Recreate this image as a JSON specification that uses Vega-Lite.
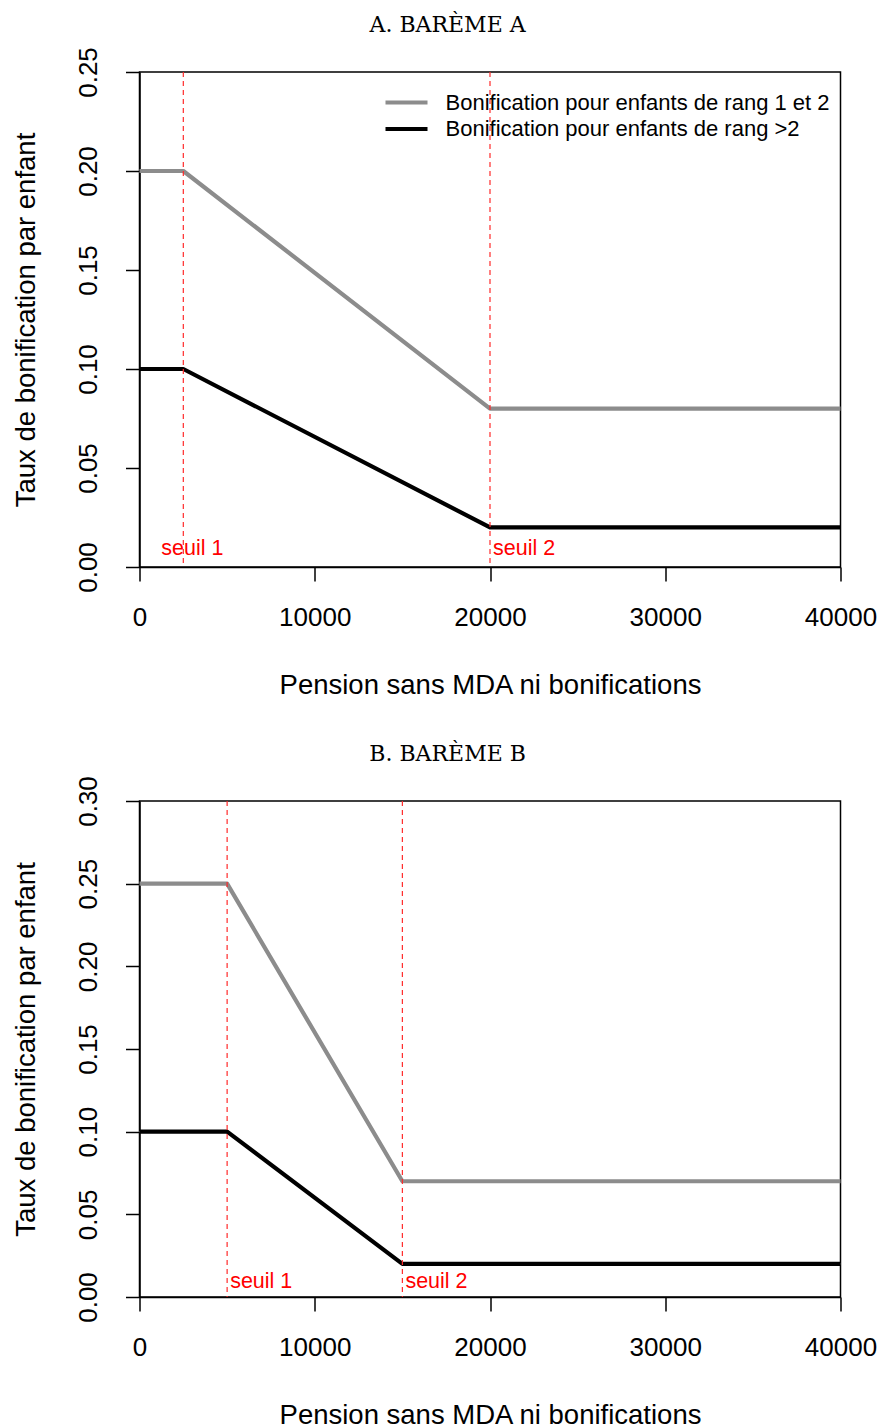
{
  "$schema": "https://vega.github.io/schema/vega-lite/v6.json",
  "background": "white",
  "padding": {"left": 11.5, "top": 12, "right": 0, "bottom": 0},
  "spacing": 41,
  "config": {
    "view": {"stroke": "#000000", "strokeWidth": 1.5},
    "axis": {
      "labelFont": "Liberation Sans", "titleFont": "Liberation Sans",
      "labelFontSize": 26, "titleFontSize": 27.5,
      "labelFontWeight": "normal", "titleFontWeight": "normal",
      "labelColor": "#000000", "titleColor": "#000000",
      "tickColor": "#000000", "domainColor": "#000000",
      "tickSize": 14, "tickWidth": 1.5, "domainWidth": 1.5,
      "grid": false, "labelOverlap": false, "labelBound": false
    },
    "axisX": {"labelFlush": false, "labelPadding": 23, "titlePadding": 41},
    "axisY": {"labelAngle": -90, "labelAlign": "center", "labelBaseline": "bottom", "labelPadding": 24, "titlePadding": 35},
    "title": {"font": "DejaVu Serif", "fontSize": 22, "fontWeight": "normal", "color": "#000000", "anchor": "middle", "frame": "bounds", "baseline": "alphabetic", "offset": 10, "dx": 3},
    "legend": {"labelFont": "Liberation Sans", "labelFontSize": 22, "labelColor": "#000000", "labelLimit": 600}
  },
  "datasets": {
    "a_lines": [
      {"serie": "Bonification pour enfants de rang 1 et 2", "pension": 0, "taux": 0.2},
      {"serie": "Bonification pour enfants de rang 1 et 2", "pension": 2500, "taux": 0.2},
      {"serie": "Bonification pour enfants de rang 1 et 2", "pension": 20000, "taux": 0.08},
      {"serie": "Bonification pour enfants de rang 1 et 2", "pension": 40000, "taux": 0.08},
      {"serie": "Bonification pour enfants de rang >2", "pension": 0, "taux": 0.1},
      {"serie": "Bonification pour enfants de rang >2", "pension": 2500, "taux": 0.1},
      {"serie": "Bonification pour enfants de rang >2", "pension": 20000, "taux": 0.02},
      {"serie": "Bonification pour enfants de rang >2", "pension": 40000, "taux": 0.02}
    ],
    "a_seuils": [
      {"label": "seuil 1", "pension": 2500},
      {"label": "seuil 2", "pension": 20000}
    ],
    "b_lines": [
      {"serie": "Bonification pour enfants de rang 1 et 2", "pension": 0, "taux": 0.25},
      {"serie": "Bonification pour enfants de rang 1 et 2", "pension": 5000, "taux": 0.25},
      {"serie": "Bonification pour enfants de rang 1 et 2", "pension": 15000, "taux": 0.07},
      {"serie": "Bonification pour enfants de rang 1 et 2", "pension": 40000, "taux": 0.07},
      {"serie": "Bonification pour enfants de rang >2", "pension": 0, "taux": 0.1},
      {"serie": "Bonification pour enfants de rang >2", "pension": 5000, "taux": 0.1},
      {"serie": "Bonification pour enfants de rang >2", "pension": 15000, "taux": 0.02},
      {"serie": "Bonification pour enfants de rang >2", "pension": 40000, "taux": 0.02}
    ],
    "b_seuils": [
      {"label": "seuil 1", "pension": 5000},
      {"label": "seuil 2", "pension": 15000}
    ]
  },
  "vconcat": [
    {
      "title": {"text": "A. BARÈME A"},
      "width": 701,
      "height": 495,
      "layer": [
        {
          "data": {"name": "a_lines"},
          "mark": {"type": "line", "strokeWidth": 4.2, "strokeJoin": "round"},
          "encoding": {
            "x": {"field": "pension", "type": "quantitative", "scale": {"domain": [0, 40000], "nice": false},
                  "axis": {"values": [0, 10000, 20000, 30000, 40000], "format": "d", "title": "Pension sans MDA ni bonifications"}},
            "y": {"field": "taux", "type": "quantitative", "scale": {"domain": [0, 0.25], "nice": false},
                  "axis": {"values": [0, 0.05, 0.1, 0.15, 0.2, 0.25], "format": ".2f", "title": "Taux de bonification par enfant"}},
            "color": {"field": "serie", "type": "nominal",
              "scale": {"domain": ["Bonification pour enfants de rang 1 et 2", "Bonification pour enfants de rang >2"], "range": ["#8c8c8c", "#000000"]},
              "legend": {"orient": "none", "legendX": 254.5, "legendY": 18, "title": null, "symbolType": "M-2,0H2", "symbolSize": 441, "symbolStrokeWidth": 4, "labelOffset": 26.5, "rowPadding": 2.5, "padding": 0}}
          }
        },
        {
          "data": {"name": "a_seuils"},
          "mark": {"type": "rule", "stroke": "#ff2a2a", "strokeWidth": 1.2, "strokeDash": [5, 4]},
          "encoding": {"x": {"field": "pension", "type": "quantitative"}}
        },
        {
          "data": {"name": "a_seuils"},
          "transform": [{"filter": "datum.label == 'seuil 1'"}],
          "mark": {"type": "text", "fill": "#ff0000", "font": "Liberation Sans", "fontSize": 21.5, "align": "center", "baseline": "middle", "dx": 9},
          "encoding": {"x": {"field": "pension", "type": "quantitative"}, "y": {"datum": 0.009, "type": "quantitative"}, "text": {"field": "label", "type": "nominal"}}
        },
        {
          "data": {"name": "a_seuils"},
          "transform": [{"filter": "datum.label == 'seuil 2'"}],
          "mark": {"type": "text", "fill": "#ff0000", "font": "Liberation Sans", "fontSize": 21.5, "align": "left", "baseline": "middle", "dx": 3},
          "encoding": {"x": {"field": "pension", "type": "quantitative"}, "y": {"datum": 0.009, "type": "quantitative"}, "text": {"field": "label", "type": "nominal"}}
        }
      ]
    },
    {
      "title": {"text": "B. BARÈME B"},
      "width": 701,
      "height": 496,
      "layer": [
        {
          "data": {"name": "b_lines"},
          "mark": {"type": "line", "strokeWidth": 1},
          "encoding": {
            "x": {"field": "pension", "type": "quantitative", "scale": {"domain": [0, 40000], "nice": false},
                  "axis": {"values": [0, 10000, 20000, 30000, 40000], "format": "d", "title": "Pension sans MDA ni bonifications"}},
            "y": {"field": "taux", "type": "quantitative", "scale": {"domain": [0, 0.3], "nice": false},
                  "axis": {"values": [0, 0.05, 0.1, 0.15, 0.2, 0.25, 0.3], "format": ".2f", "title": "Taux de bonification par enfant"}},
            "stroke": {"field": "serie", "type": "nominal",
              "scale": {"domain": ["Bonification pour enfants de rang 1 et 2", "Bonification pour enfants de rang >2"], "range": ["#000000", "#c4c4c4"]},
              "legend": {"orient": "none", "legendX": 254.5, "legendY": 18, "title": null, "symbolType": "M-2,0H2", "symbolSize": 441, "symbolStrokeWidth": 1.8, "labelOffset": 26.5, "rowPadding": 2.5, "padding": 0}}
          }
        },
        {
          "data": {"name": "b_lines"},
          "mark": {"type": "line", "strokeWidth": 4.2, "strokeJoin": "round"},
          "encoding": {
            "x": {"field": "pension", "type": "quantitative"},
            "y": {"field": "taux", "type": "quantitative"},
            "color": {"field": "serie", "type": "nominal",
              "scale": {"domain": ["Bonification pour enfants de rang 1 et 2", "Bonification pour enfants de rang >2"], "range": ["#8c8c8c", "#000000"]},
              "legend": null}
          }
        },
        {
          "data": {"name": "b_seuils"},
          "mark": {"type": "rule", "stroke": "#ff2a2a", "strokeWidth": 1.2, "strokeDash": [5, 4]},
          "encoding": {"x": {"field": "pension", "type": "quantitative"}}
        },
        {
          "data": {"name": "b_seuils"},
          "mark": {"type": "text", "fill": "#ff0000", "font": "Liberation Sans", "fontSize": 21.5, "align": "left", "baseline": "middle", "dx": 3},
          "encoding": {"x": {"field": "pension", "type": "quantitative"}, "y": {"datum": 0.009, "type": "quantitative"}, "text": {"field": "label", "type": "nominal"}}
        }
      ]
    }
  ]
}
